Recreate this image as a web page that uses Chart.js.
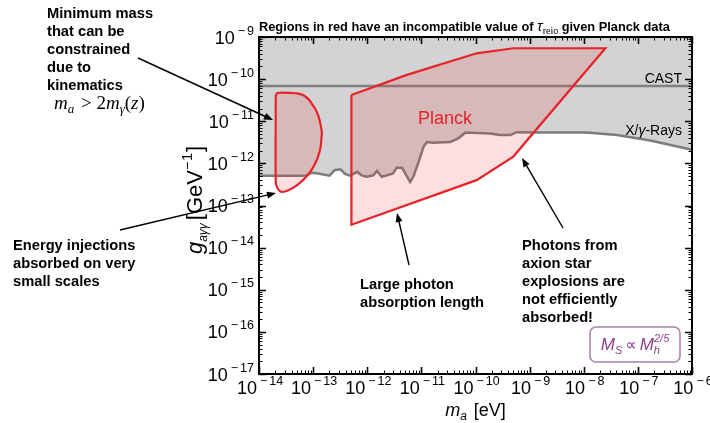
<!DOCTYPE html>
<html>
<head>
<meta charset="utf-8">
<script src="https://cdn.jsdelivr.net/npm/chart.js@4.4.1/dist/chart.umd.min.js"></script>
<style>
  body { margin: 0; background: #fff; }
  canvas { display: block; }
</style>
</head>
<body>
<canvas id="chart" width="710" height="423"></canvas>
<script>
// axion mass m_a [eV] and coupling g_a\u03b3\u03b3 [GeV^-1]
const massDecades = [-14, -13, -12, -11, -10, -9, -8, -7, -6];
const couplingDecades = [-17, -16, -15, -14, -13, -12, -11, -10, -9];

// X/gamma-ray bound (lower edge of gray excluded region)
const xrayMass = [1e-14, 7.4e-14, 9.3e-14, 1.17e-13, 2.0e-13, 2.5e-13, 3.2e-13, 3.9e-13, 4.8e-13, 6.5e-13,
  7.9e-13, 9.8e-13, 1.29e-12, 1.51e-12, 1.86e-12, 2.3e-12, 3.0e-12, 3.5e-12, 4.4e-12, 5.0e-12,
  6.2e-12, 7.1e-12, 8.7e-12, 1.10e-11, 1.26e-11, 1.66e-11, 3.4e-11, 4.8e-11, 6.5e-11, 1.86e-10,
  2.8e-10, 4.4e-10, 5.8e-10, 1.17e-9, 1.15e-8, 4.1e-8, 1.7e-7, 1e-6];
const xrayCoupling = [5.1e-13, 5.1e-13, 6.0e-13, 5.8e-13, 5.1e-13, 6.9e-13, 7.2e-13, 5.6e-13, 5.1e-13, 6.3e-13,
  5.2e-13, 4.8e-13, 5.2e-13, 6.6e-13, 4.8e-13, 5.2e-13, 5.8e-13, 7.9e-13, 7.9e-13, 5.9e-13,
  3.6e-13, 4.8e-13, 1.0e-12, 2.5e-12, 3.2e-12, 3.1e-12, 3.2e-12, 3.9e-12, 5.4e-12, 5.1e-12,
  4.7e-12, 4.7e-12, 5.5e-12, 5.4e-12, 5.4e-12, 4.7e-12, 3.5e-12, 2.1e-12];

// CAST helioscope bound
const castMass = [1e-14, 1e-6];
const castCoupling = [6.9e-11, 6.9e-11];

// Planck exclusion, small-mass island
const islandMass = [2.04e-14, 2.19e-14, 2.75e-14, 3.7e-14, 5.0e-14, 6.5e-14, 8.1e-14, 9.3e-14, 1.10e-13, 1.26e-13,
  1.38e-13, 1.45e-13, 1.41e-13, 1.38e-13, 1.29e-13, 1.17e-13, 9.3e-14, 7.1e-14, 5.0e-14, 3.5e-14,
  2.6e-14, 2.19e-14, 2.04e-14, 2.04e-14];
const islandCoupling = [4.2e-11, 4.7e-11, 4.8e-11, 4.7e-11, 4.6e-11, 4.2e-11, 3.4e-11, 2.7e-11, 1.95e-11, 1.29e-11,
  8.1e-12, 5.2e-12, 3.5e-12, 2.5e-12, 1.74e-12, 1.20e-12, 6.9e-13, 4.5e-13, 3.0e-13, 2.3e-13,
  2.1e-13, 2.6e-13, 3.6e-13, 4.2e-11];

// Planck exclusion, main region
const planckMass = [5.1e-13, 5.1e-13, 1.05e-10, 5.0e-10, 2.5e-8, 5.0e-10, 1.05e-10, 5.4e-12, 5.1e-13];
const planckCoupling = [4.2e-11, 3.5e-14, 4.0e-13, 1.45e-12, 5.4e-10, 5.4e-10, 4.1e-10, 1.26e-10, 4.2e-11];

const SANS = "'Liberation Sans', Arial, sans-serif";
const SERIF = "'Liberation Serif', 'Times New Roman', serif";
const RED = "#e8222b";

function toPoints(xs, ys) {
  return xs.map((x, i) => ({ x: x, y: ys[i] }));
}

// draws a run of text pieces: [text, font, dy, extraAdvance]
function drawRich(ctx, parts, x, y, align) {
  let w = 0;
  parts.forEach(p => { ctx.font = p[1]; w += ctx.measureText(p[0]).width + (p[3] || 0); });
  let cx = align === "center" ? x - w / 2 : align === "right" ? x - w : x;
  parts.forEach(p => {
    ctx.font = p[1];
    ctx.fillText(p[0], cx, y + (p[2] || 0));
    cx += ctx.measureText(p[0]).width + (p[3] || 0);
  });
}

function powerLabel(exp) {
  return [
    ["10", "18px " + SANS, 0, 3],
    ["\u2212", "12.5px " + SANS, -9, 2],
    [String(-exp), "12.5px " + SANS, -9]
  ];
}

function arrow(ctx, x1, y1, x2, y2) {
  const a = Math.atan2(y2 - y1, x2 - x1);
  const L = 9, W = 3.5;
  ctx.beginPath();
  ctx.moveTo(x1, y1);
  ctx.lineTo(x2 - Math.cos(a) * L * 0.8, y2 - Math.sin(a) * L * 0.8);
  ctx.stroke();
  ctx.beginPath();
  ctx.moveTo(x2, y2);
  ctx.lineTo(x2 - Math.cos(a) * L - Math.sin(a) * W, y2 - Math.sin(a) * L + Math.cos(a) * W);
  ctx.lineTo(x2 - Math.cos(a) * L + Math.sin(a) * W, y2 - Math.sin(a) * L - Math.cos(a) * W);
  ctx.closePath();
  ctx.fill();
}

const notes = [
  { x: 47, y: 18, lines: ["Minimum mass", "that can be", "constrained", "due to", "kinematics"] },
  { x: 13, y: 250, lines: ["Energy injections", "absorbed on very", "small scales"] },
  { x: 360, y: 289, lines: ["Large photon", "absorption length"] },
  { x: 522, y: 250, lines: ["Photons from", "axion star", "explosions are", "not efficiently", "absorbed!"] }
];
const arrows = [
  [138, 58, 273, 120],
  [120, 230, 276, 193],
  [409, 265, 397, 213],
  [563, 228, 522, 158]
];

const decor = {
  id: "decor",
  afterDraw(chart) {
    const ctx = chart.ctx;
    const a = chart.chartArea;
    const xs = chart.scales.x, ys = chart.scales.y;
    ctx.save();
    ctx.fillStyle = "#000";
    ctx.strokeStyle = "#000";

    // inward ticks on all four sides
    massDecades.forEach((e, i) => {
      const ks = i === massDecades.length - 1 ? [1] : [1, 2, 3, 4, 5, 6, 7, 8, 9];
      ks.forEach(k => {
        const px = Math.round(xs.getPixelForValue(k * Math.pow(10, e))) + 0.5;
        const len = k === 1 ? 7 : 3.5;
        ctx.lineWidth = k === 1 ? 1.6 : 1;
        ctx.beginPath();
        ctx.moveTo(px, a.bottom); ctx.lineTo(px, a.bottom - len);
        ctx.moveTo(px, a.top); ctx.lineTo(px, a.top + len);
        ctx.stroke();
      });
    });
    couplingDecades.forEach((e, i) => {
      const ks = i === couplingDecades.length - 1 ? [1] : [1, 2, 3, 4, 5, 6, 7, 8, 9];
      ks.forEach(k => {
        const py = Math.round(ys.getPixelForValue(k * Math.pow(10, e))) + 0.5;
        const len = k === 1 ? 7 : 3.5;
        ctx.lineWidth = k === 1 ? 1.6 : 1;
        ctx.beginPath();
        ctx.moveTo(a.left, py); ctx.lineTo(a.left + len, py);
        ctx.moveTo(a.right, py); ctx.lineTo(a.right - len, py);
        ctx.stroke();
      });
    });

    // frame
    ctx.lineWidth = 2;
    ctx.strokeRect(a.left, a.top, a.right - a.left, a.bottom - a.top);

    // tick labels
    ctx.textBaseline = "alphabetic";
    massDecades.forEach(e => {
      drawRich(ctx, powerLabel(e), xs.getPixelForValue(Math.pow(10, e)) + 1, a.bottom + 20, "center");
    });
    couplingDecades.forEach(e => {
      drawRich(ctx, powerLabel(e), a.left - 5, ys.getPixelForValue(Math.pow(10, e)) + 6.5, "right");
    });

    // axis titles
    drawRich(ctx, [
      ["m", "italic 18px " + SANS],
      ["a", "italic 12px " + SANS, 4, 7],
      ["[eV]", "18px " + SANS]
    ], (a.left + a.right) / 2, a.bottom + 42, "center");
    ctx.save();
    ctx.translate(a.left - 57, 200);
    ctx.rotate(-Math.PI / 2);
    drawRich(ctx, [
      ["g", "italic 22px " + SANS],
      ["a\u03b3\u03b3", "italic 12px " + SANS, 5, 3],
      ["[GeV", "22px " + SANS],
      ["\u2212", "14px " + SANS, -10, 1],
      ["1", "14px " + SANS, -10, 1],
      ["]", "22px " + SANS]
    ], 0, 0, "center");
    ctx.restore();

    // title
    drawRich(ctx, [
      ["Regions in red have an incompatible value of ", "bold 12.8px " + SANS],
      ["\u03c4", "italic 15px " + SANS],
      ["reio", "10px " + SERIF, 3],
      [" given Planck data", "bold 12.8px " + SANS]
    ], a.left, a.top - 6, "left");

    // curve labels
    drawRich(ctx, [["CAST", "14px " + SANS]], a.right - 10, 83, "right");
    drawRich(ctx, [["X/", "14px " + SANS], ["\u03b3", "italic 14px " + SANS], ["-Rays", "14px " + SANS]], a.right - 10, 135, "right");
    ctx.fillStyle = RED;
    drawRich(ctx, [["Planck", "18px " + SANS]], 418, 124, "left");

    // annotations
    ctx.fillStyle = "#000";
    ctx.font = "bold 14.7px " + SANS;
    notes.forEach(n => n.lines.forEach((t, i) => ctx.fillText(t, n.x, n.y + i * 18)));
    drawRich(ctx, [
      ["m", "italic 19px " + SERIF],
      ["a", "italic 13px " + SERIF, 4, 2],
      [" > 2", "19px " + SERIF],
      ["m", "italic 19px " + SERIF],
      ["\u03b3", "italic 13px " + SERIF, 4],
      ["(", "19px " + SERIF],
      ["z", "italic 19px " + SERIF],
      [")", "19px " + SERIF]
    ], 54, 109, "left");
    ctx.lineWidth = 1.4;
    arrows.forEach(r => arrow(ctx, r[0], r[1], r[2], r[3]));

    // relation box
    ctx.fillStyle = "#fff";
    ctx.strokeStyle = "#a77fa8";
    ctx.lineWidth = 1.5;
    ctx.beginPath();
    ctx.roundRect(590, 327, 90, 35, 6);
    ctx.fill();
    ctx.stroke();
    ctx.fillStyle = "#8c3f8e";
    drawRich(ctx, [
      ["M", "italic 17px " + SANS],
      ["S", "italic 11px " + SANS, 4, 3],
      ["\u221d", "16px 'DejaVu Sans', sans-serif", 0, 3],
      ["M", "italic 17px " + SANS],
      ["h", "italic 11px " + SANS, 4, -6],
      ["2/5", "italic 11px " + SANS, -8]
    ], 635, 350, "center");

    ctx.restore();
  }
};

new Chart(document.getElementById("chart"), {
  type: "scatter",
  data: {
    datasets: [
      {
        data: toPoints(islandMass, islandCoupling),
        showLine: true, order: 1, tension: 0.25,
        borderColor: RED, borderWidth: 2.2, pointRadius: 0,
        backgroundColor: "rgba(240,40,40,0.15)", fill: "shape"
      },
      {
        data: toPoints(planckMass, planckCoupling),
        showLine: true, order: 1,
        borderColor: RED, borderWidth: 2.2, pointRadius: 0,
        backgroundColor: "rgba(240,40,40,0.15)", fill: "shape"
      },
      {
        data: toPoints(castMass, castCoupling),
        showLine: true, order: 4,
        borderColor: "#808080", borderWidth: 2.5, pointRadius: 0, fill: false
      },
      {
        data: toPoints(xrayMass, xrayCoupling),
        showLine: true, order: 5,
        borderColor: "#7c7c7c", borderWidth: 2.5, pointRadius: 0,
        backgroundColor: "#d3d3d3", fill: "end"
      }
    ]
  },
  options: {
    responsive: false,
    animation: false,
    devicePixelRatio: 1,
    layout: { padding: { left: 259, right: 18, top: 37, bottom: 49 } },
    plugins: { legend: { display: false }, tooltip: { enabled: false } },
    scales: {
      x: { type: "logarithmic", min: 1e-14, max: 1e-6, display: false },
      y: { type: "logarithmic", min: 1e-17, max: 1e-9, display: false }
    }
  },
  plugins: [decor]
});
</script>
</body>
</html>
